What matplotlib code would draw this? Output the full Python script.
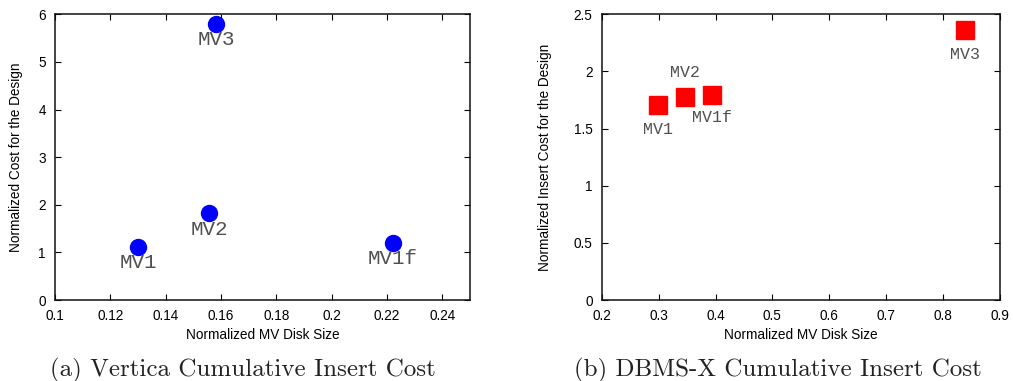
import matplotlib
matplotlib.use("Agg")
import matplotlib.pyplot as plt

# Vertica data
v_names = ["MV1", "MV2", "MV3", "MV1f"]
v_size = [0.130, 0.1558, 0.1582, 0.2221]
v_cost = [1.12, 1.82, 5.80, 1.20]

# DBMS-X data
d_names = ["MV1", "MV2", "MV1f", "MV3"]
d_size = [0.299, 0.346, 0.394, 0.838]
d_cost = [1.706, 1.776, 1.794, 2.362]

W, H = 1013, 381
fig = plt.figure(figsize=(W / 100, H / 100), dpi=100)

lab_font = dict(family="Liberation Mono", color="#505050")
FS = 9.8

def style(ax):
    ax.tick_params(direction="in", length=4, width=0.8, top=True, right=True,
                   labelsize=FS, pad=6.5)
    for lab in ax.get_xticklabels() + ax.get_yticklabels():
        lab.set_fontfamily("Liberation Sans")
    for s in ax.spines.values():
        s.set_linewidth(1.1)
        s.set_color("#111111")

# Left
ax1 = fig.add_axes([55 / W, 1 - 300 / H, (470 - 55) / W, (300 - 14.3) / H])
ax1.plot(v_size, v_cost, "o", color="#0000FF", markersize=11.5, linestyle="none")
ax1.set_xlim(0.1, 0.25)
ax1.set_ylim(0, 6)
ax1.set_xticks([0.1, 0.12, 0.14, 0.16, 0.18, 0.2, 0.22, 0.24])
ax1.set_xticklabels(["0.1", "0.12", "0.14", "0.16", "0.18", "0.2", "0.22", "0.24"])
ax1.set_yticks(range(0, 7))
style(ax1)
ax1.set_xlabel("Normalized MV Disk Size", fontfamily="Liberation Sans", fontsize=FS)
ax1.set_ylabel("Normalized Cost for the Design", fontfamily="Liberation Sans", fontsize=FS)
ax1.xaxis.set_label_coords(0.5, -0.098)
ax1.yaxis.set_label_coords(-0.078, 0.5)
for n, x, y in zip(v_names, v_size, v_cost):
    ax1.annotate(n, (x, y), xytext=(0, -11.5), textcoords="offset points",
                 ha="center", va="center", fontsize=15, **lab_font)

# Right
ax2 = fig.add_axes([601.7 / W, 1 - 300 / H, (1000 - 601.7) / W, (300 - 14.3) / H])
ax2.plot(d_size, d_cost, "s", color="#FF0000", markersize=13, linestyle="none")
ax2.set_xlim(0.2, 0.9)
ax2.set_ylim(0, 2.5)
ax2.set_xticks([0.2, 0.3, 0.4, 0.5, 0.6, 0.7, 0.8, 0.9])
ax2.set_xticklabels(["0.2", "0.3", "0.4", "0.5", "0.6", "0.7", "0.8", "0.9"])
ax2.set_yticks([0, 0.5, 1, 1.5, 2, 2.5])
ax2.set_yticklabels(["0", "0.5", "1", "1.5", "2", "2.5"])
style(ax2)
ax2.set_xlabel("Normalized MV Disk Size", fontfamily="Liberation Sans", fontsize=FS)
ax2.set_ylabel("Normalized Insert Cost for the Design", fontfamily="Liberation Sans", fontsize=FS)
ax2.xaxis.set_label_coords(0.5, -0.098)
ax2.yaxis.set_label_coords(-0.125, 0.5)
offsets = {"MV1": (0, -17.5), "MV2": (0, 18), "MV1f": (0, -16.5), "MV3": (0, -17.5)}
for n, x, y in zip(d_names, d_size, d_cost):
    ax2.annotate(n, (x, y), xytext=offsets[n], textcoords="offset points",
                 ha="center", va="center", fontsize=12, **lab_font)

# Captions
fig.text(243 / W, 1 - 370 / H, "(a) Vertica Cumulative Insert Cost", ha="center", va="center",
         fontfamily="cmr10", fontsize=18, color="#222222")
fig.text(778 / W, 1 - 370 / H, "(b) DBMS-X Cumulative Insert Cost", ha="center", va="center",
         fontfamily="cmr10", fontsize=18, color="#222222")

fig.savefig("out.png", dpi=100)
